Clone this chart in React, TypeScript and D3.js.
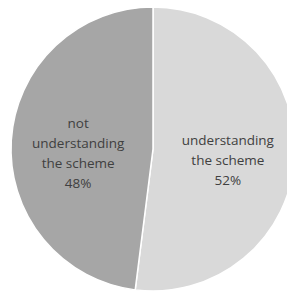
import React from "react";
import * as d3 from "d3";

const categories = ["understanding the scheme", "not understanding the scheme"];
const values = [52, 48];
const labelLines = [
  ["understanding", "the scheme", "52%"],
  ["not", "understanding", "the scheme", "48%"],
];
const colors = ["#d9d9d9", "#a6a6a6"];

const width = 287;
const height = 293;
const cx = 153;
const cy = 149;
const radius = 142;

export default function App() {
  const pie = d3.pie<number>().sort(null).value((d) => d);
  const arcs = pie(values);
  const arc = d3.arc<d3.PieArcDatum<number>>().innerRadius(0).outerRadius(radius);
  const labelArc = d3.arc<d3.PieArcDatum<number>>().innerRadius(75).outerRadius(75);
  const lineH = 20;

  return (
    <svg
      width={width}
      height={height}
      style={{ position: "absolute", left: 0, top: 0, background: "#fff" }}
    >
      <g transform={`translate(${cx},${cy})`}>
        {arcs.map((a, i) => (
          <path key={categories[i]} d={arc(a) || ""} fill={colors[i]} stroke="#fff" strokeWidth={1.5} />
        ))}
        {arcs.map((a, i) => {
          const [x, y] = labelArc.centroid(a);
          const lines = labelLines[i];
          // shift labels down a little, like the spreadsheet layout
          const y0 = y - ((lines.length - 1) * lineH) / 2 + (i === 0 ? 7 : 9);
          return (
            <text
              key={"l" + i}
              textAnchor="middle"
              fontFamily="'Open Sans', sans-serif"
              fontSize={13.5}
              fill="#404040"
            >
              {lines.map((t, j) => (
                <tspan key={j} x={x} y={y0 + j * lineH} dy="0.35em">
                  {t}
                </tspan>
              ))}
            </text>
          );
        })}
      </g>
    </svg>
  );
}
